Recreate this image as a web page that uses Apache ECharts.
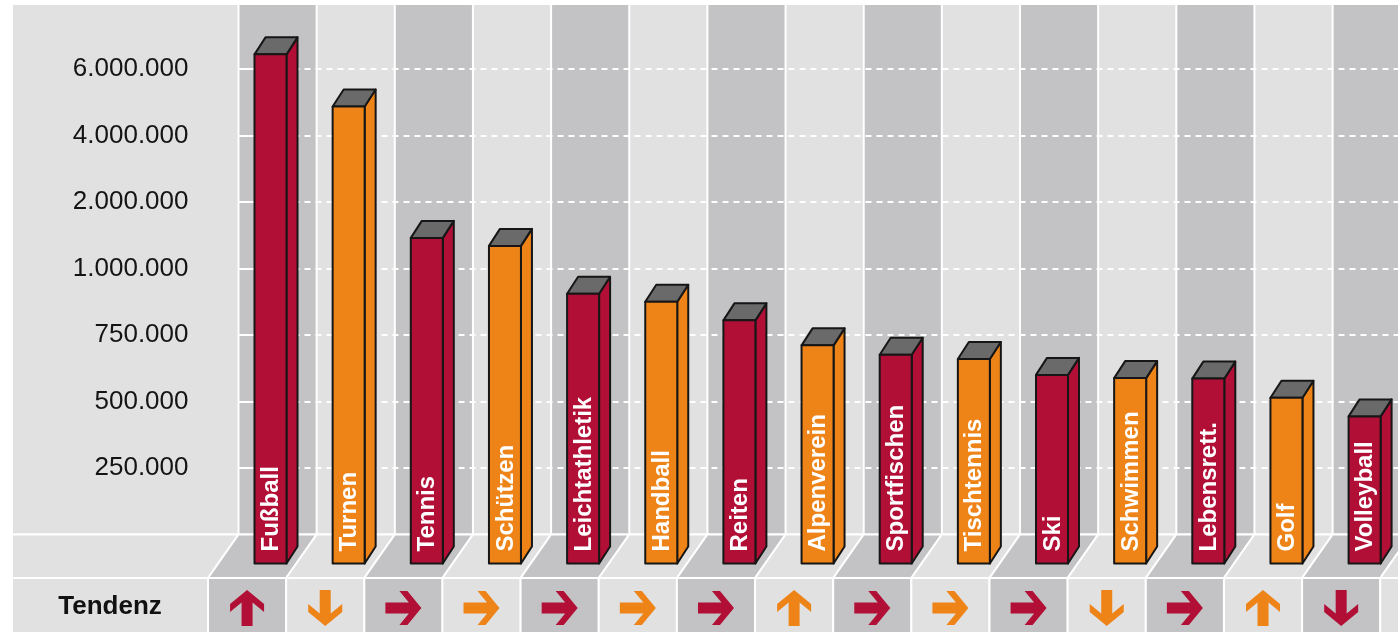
<!DOCTYPE html>
<html>
<head>
<meta charset="utf-8">
<script src="https://cdn.jsdelivr.net/npm/echarts@6/dist/echarts.min.js"></script>
<style>
  html, body { margin: 0; padding: 0; background: #fff; }
  #chart { width: 1398px; height: 632px; }
</style>
</head>
<body>
<div id="chart"></div>
<script>
// members per sports federation
const categories = ['Fußball', 'Turnen', 'Tennis', 'Schützen', 'Leichtathletik', 'Handball', 'Reiten',
  'Alpenverein', 'Sportfischen', 'Tischtennis', 'Ski', 'Schwimmen', 'Lebensrett.', 'Golf', 'Volleyball'];
const members = [6440000, 4870000, 1460000, 1340000, 905000, 875000, 805000,
  711000, 676000, 660000, 600000, 588000, 586000, 514000, 444000];
const trends = ['up', 'down', 'right', 'right', 'right', 'right', 'right',
  'up', 'right', 'right', 'right', 'down', 'right', 'up', 'down'];

// the axis is not linear: every tick gets the same height
const tickValues = [0, 250000, 500000, 750000, 1000000, 2000000, 4000000, 6000000];
const tickLabels = ['', '250.000', '500.000', '750.000', '1.000.000', '2.000.000', '4.000.000', '6.000.000'];

const RED = '#b20f36';
const ORANGE = '#ee8418';
const DARK = '#c3c3c5';
const LIGHT = '#e1e1e1';
const CAP = '#6a6a6a';
const FONT = '"Liberation Sans", Arial, Helvetica, sans-serif';

const FRAME_LEFT = 12;
const FRAME_TOP = 5;
const FLOOR_DEPTH = 43.5;  // height of the floor band below the zero line
const SLANT = 30.5;        // how far the floor leans to the left
const BAR_DROP = 29;       // bars stand on the floor, in front of the wall
const BAR_W = 32;
const DX = 11, DY = 17;    // depth of the 3d bars

function toAxis(v) {
  for (let k = 1; k < tickValues.length; k++) {
    if (v <= tickValues[k]) {
      return k - 1 + (v - tickValues[k - 1]) / (tickValues[k] - tickValues[k - 1]);
    }
  }
  const n = tickValues.length - 1;
  return n + (v - tickValues[n]) / (tickValues[n] - tickValues[n - 1]);
}

const ARROW = [[-18, -5.5], [5.5, -5.5], [-4, -17], [4, -17], [18, 0], [4, 17], [-4, 17], [5.5, 5.5], [-18, 5.5]];
function arrowPoints(dir, cx, cy) {
  return ARROW.map(([x, y]) => {
    if (dir === 'up') return [cx + y, cy - x];
    if (dir === 'down') return [cx - y, cy + x];
    return [cx + x, cy + y];
  });
}

const colIndex = [];
for (let i = -1; i <= 15; i++) colIndex.push([i, 0]);

var chartDom = document.getElementById('chart');
var myChart = echarts.init(chartDom);

function renderWall(params, api) {
  const i = api.value(0);
  const y0 = api.coord([0, 0])[1];
  let x0 = api.coord([i - 0.5, 0])[0];
  const x1 = api.coord([i + 0.5, 0])[0];
  let fill = i % 2 === 0 ? DARK : LIGHT;
  if (i < 0) { x0 = FRAME_LEFT; fill = LIGHT; }
  return {
    type: 'rect',
    shape: { x: x0 + 1, y: FRAME_TOP, width: x1 - x0 - 2, height: y0 - FRAME_TOP - 1 },
    style: { fill: fill }
  };
}

function renderFloor(params, api) {
  const i = api.value(0);
  const yTop = api.coord([0, 0])[1];
  const yBot = yTop + FLOOR_DEPTH;
  let x0 = api.coord([i - 0.5, 0])[0];
  const x1 = api.coord([i + 0.5, 0])[0];
  const children = [];
  if (i < 0) {
    children.push({
      type: 'polygon',
      shape: { points: [[FRAME_LEFT, yTop], [x1, yTop], [x1 - SLANT, yBot], [FRAME_LEFT, yBot]] },
      style: { fill: LIGHT, stroke: '#fff', lineWidth: 2 }
    });
    children.push({
      type: 'rect',
      shape: { x: FRAME_LEFT, y: yBot, width: x1 - SLANT - FRAME_LEFT, height: 80 },
      style: { fill: LIGHT, stroke: '#fff', lineWidth: 2 }
    });
    return { type: 'group', children: children };
  }
  const fill = i % 2 === 0 ? DARK : LIGHT;
  children.push({
    type: 'polygon',
    shape: { points: [[x0, yTop], [x1, yTop], [x1 - SLANT, yBot], [x0 - SLANT, yBot]] },
    style: { fill: fill, stroke: '#fff', lineWidth: 2 }
  });
  children.push({
    type: 'rect',
    shape: { x: x0 - SLANT, y: yBot, width: x1 - x0, height: 80 },
    style: { fill: fill, stroke: '#fff', lineWidth: 2 }
  });
  if (i < trends.length) {
    children.push({
      type: 'polygon',
      shape: { points: arrowPoints(trends[i], (x0 + x1) / 2 - SLANT, yBot + 30) },
      style: { fill: i % 2 === 0 ? RED : ORANGE }
    });
  }
  return { type: 'group', children: children };
}

function renderBar(params, api) {
  const i = api.value(0);
  const top = api.coord([i, api.value(1)]);
  const base = api.coord([i, 0])[1] + BAR_DROP;
  const left = api.coord([i - 0.5, 0])[0];
  const x0 = left + 16;
  const x1 = x0 + BAR_W;
  const yt = top[1];
  const color = i % 2 === 0 ? RED : ORANGE;
  const line = { stroke: '#161616', lineWidth: 2, lineJoin: 'round' };
  return {
    type: 'group',
    children: [
      {
        type: 'polygon',
        shape: { points: [[x1, base], [x1, yt], [x1 + DX, yt - DY], [x1 + DX, base - DY]] },
        style: Object.assign({ fill: color }, line)
      },
      {
        type: 'polygon',
        shape: { points: [[x0, yt], [x0 + DX, yt - DY], [x1 + DX, yt - DY], [x1, yt]] },
        style: Object.assign({ fill: CAP }, line)
      },
      {
        type: 'rect',
        shape: { x: x0, y: yt, width: BAR_W, height: base - yt },
        style: Object.assign({ fill: color }, line)
      },
      {
        type: 'text',
        x: (x0 + x1) / 2 + 1,
        y: base - 12,
        rotation: Math.PI / 2,
        style: {
          text: categories[i],
          fill: '#fff',
          font: 'bold 24px ' + FONT,
          align: 'left',
          verticalAlign: 'middle'
        }
      }
    ]
  };
}

var option = {
  animation: false,
  grid: { left: 238.5, right: 0, top: 2.5, bottom: 31 },
  xAxis: {
    type: 'value',
    min: -0.5,
    max: -0.5 + (1398 - 238.5) / 78.15,
    show: false
  },
  yAxis: {
    type: 'value',
    min: -1,
    max: 8,
    interval: 1,
    z: 2,
    axisLine: { show: false },
    axisTick: { show: true, length: 35, lineStyle: { color: '#fff', width: 2 } },
    axisLabel: {
      margin: 50,
      fontSize: 26,
      fontFamily: FONT,
      color: '#141414',
      formatter: function (v) { return tickLabels[v] || ''; }
    },
    splitLine: { lineStyle: { color: '#fff', width: 2, type: [6, 5] } }
  },
  graphic: [{
    type: 'text',
    z: 10,
    x: 110,
    y: 607,
    style: {
      text: 'Tendenz',
      font: 'bold 26px ' + FONT,
      fill: '#111',
      align: 'center',
      verticalAlign: 'middle'
    }
  }],
  series: [
    { type: 'custom', name: 'wall', z: 1, clip: false, silent: true, renderItem: renderWall, data: colIndex },
    { type: 'custom', name: 'floor', z: 3, clip: false, silent: true, renderItem: renderFloor, data: colIndex },
    {
      type: 'custom',
      name: 'Mitglieder',
      z: 4,
      clip: false,
      renderItem: renderBar,
      data: members.map((v, i) => [i, toAxis(v), v])
    }
  ]
};

option && myChart.setOption(option);
</script>
</body>
</html>
